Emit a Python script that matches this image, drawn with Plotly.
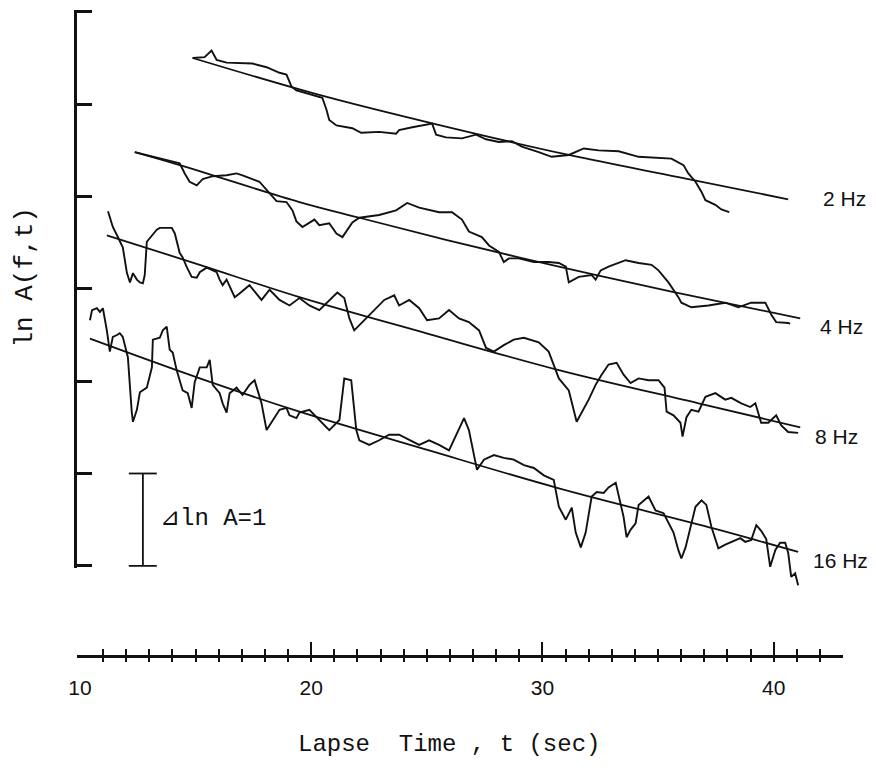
import plotly.graph_objects as go

# lapse time (sec) and ln A(f,t)

t_2hz = [14.87, 15.39, 15.69, 15.91, 16.34, 17.46, 18.07, 18.63, 18.93, 19.15, 19.36, 20.05, 20.35, 20.48,
         20.66, 20.78, 21.09, 21.78, 22.16, 22.94, 23.67, 23.80, 24.37, 25.23, 25.40, 25.83, 26.52, 27.13,
         27.56, 28.12, 28.68, 29.11, 29.84, 30.40, 31.14, 31.57, 31.79, 32.43, 33.30, 34.16, 35.02, 35.58,
         36.10, 36.31, 36.62, 36.88, 37.05, 37.48, 37.74, 38.08]
a_2hz = [5.48, 5.49, 5.56, 5.46, 5.43, 5.42, 5.38, 5.32, 5.30, 5.17, 5.13, 5.08, 5.06, 5.05,
         4.92, 4.81, 4.75, 4.72, 4.67, 4.68, 4.66, 4.70, 4.73, 4.77, 4.65, 4.62, 4.61, 4.65,
         4.60, 4.57, 4.58, 4.52, 4.46, 4.41, 4.43, 4.48, 4.50, 4.48, 4.47, 4.41, 4.40, 4.39,
         4.32, 4.23, 4.14, 4.03, 3.94, 3.89, 3.84, 3.81]

t_4hz = [12.37, 13.15, 14.31, 14.53, 14.74, 15.05, 15.31, 15.74, 16.34, 16.77, 17.03, 17.76, 18.20, 18.50,
         18.93, 19.19, 19.36, 19.62, 20.14, 20.35, 20.78, 21.09, 21.35, 21.78, 22.08, 22.94, 23.67, 24.15,
         24.67, 25.53, 26.09, 26.52, 26.82, 27.38, 27.69, 28.12, 28.33, 28.55, 28.98, 29.63, 30.27, 30.71,
         31.01, 31.14, 31.57, 32.13, 32.30, 32.52, 32.86, 33.60, 34.16, 34.72, 35.02, 35.45, 35.88, 36.01,
         36.44, 37.18, 37.91, 38.47, 39.03, 39.64, 39.90, 40.11, 40.63, 40.71]
a_4hz = [4.46, 4.41, 4.34, 4.23, 4.14, 4.10, 4.17, 4.20, 4.21, 4.23, 4.21, 4.14, 4.02, 3.93,
         3.92, 3.83, 3.71, 3.65, 3.73, 3.67, 3.69, 3.58, 3.54, 3.70, 3.75, 3.78, 3.83, 3.91,
         3.86, 3.81, 3.81, 3.73, 3.60, 3.54, 3.45, 3.38, 3.27, 3.31, 3.31, 3.27, 3.27, 3.26,
         3.22, 3.05, 3.11, 3.13, 3.08, 3.18, 3.22, 3.29, 3.26, 3.24, 3.18, 3.05, 2.89, 2.83,
         2.78, 2.80, 2.83, 2.78, 2.83, 2.83, 2.70, 2.62, 2.61, 2.60]

t_8hz = [11.21, 11.42, 11.60, 11.85, 12.03, 12.16, 12.29, 12.46, 12.59, 12.72, 12.80, 12.89, 13.32, 13.45,
         13.97, 14.10, 14.31, 14.44, 14.61, 14.83, 15.05, 15.18, 15.48, 15.91, 16.04, 16.17, 16.34, 16.69,
         16.90, 17.33, 17.85, 18.20, 18.63, 19.06, 19.49, 19.92, 20.35, 20.78, 21.13, 21.43, 21.65, 21.86,
         22.29, 22.73, 23.16, 23.59, 23.80, 24.24, 24.67, 25.01, 25.53, 25.96, 26.39, 26.82, 27.26, 27.56,
         27.90, 28.33, 28.76, 29.20, 29.84, 30.27, 30.71, 31.14, 31.48, 32.00, 32.30, 32.56, 32.86, 33.21,
         33.51, 33.81, 34.16, 34.59, 35.02, 35.28, 35.37, 35.67, 35.97, 36.06, 36.23, 36.44, 36.75, 37.05,
         37.48, 37.91, 38.17, 38.60, 38.99, 39.21, 39.46, 39.77, 40.11, 40.33, 40.63, 41.06]
a_8hz = [3.82, 3.65, 3.56, 3.43, 3.15, 3.05, 3.15, 3.08, 3.05, 3.04, 3.13, 3.49, 3.62, 3.64,
         3.64, 3.58, 3.37, 3.32, 3.22, 3.11, 3.10, 3.16, 3.21, 3.16, 3.08, 3.02, 3.08, 2.89,
         2.93, 3.02, 2.86, 2.97, 2.86, 2.80, 2.88, 2.80, 2.75, 2.86, 2.94, 2.88, 2.66, 2.53,
         2.64, 2.75, 2.86, 2.91, 2.80, 2.86, 2.77, 2.64, 2.66, 2.75, 2.66, 2.62, 2.53, 2.34,
         2.30, 2.37, 2.43, 2.45, 2.40, 2.30, 2.01, 1.88, 1.54, 1.78, 1.94, 2.05, 2.16, 2.18,
         2.05, 1.96, 2.01, 1.99, 1.99, 1.91, 1.65, 1.61, 1.53, 1.38, 1.59, 1.67, 1.65, 1.81,
         1.85, 1.78, 1.80, 1.74, 1.70, 1.74, 1.53, 1.53, 1.61, 1.50, 1.43, 1.42]

t_16hz = [10.43, 10.52, 10.73, 10.86, 10.99, 11.16, 11.29, 11.42, 11.60, 11.72, 11.85, 12.07, 12.24, 12.29,
          12.46, 12.59, 12.89, 13.11, 13.15, 13.45, 13.58, 13.75, 13.88, 14.01, 14.18, 14.44, 14.66, 14.83,
          14.96, 15.18, 15.48, 15.61, 15.74, 16.04, 16.17, 16.34, 16.47, 16.77, 17.03, 17.33, 17.55, 17.68,
          17.85, 18.07, 18.28, 18.63, 18.93, 19.06, 19.36, 19.49, 19.92, 20.35, 20.78, 21.22, 21.43, 21.73,
          21.95, 22.08, 22.51, 22.94, 23.37, 23.80, 24.24, 24.67, 25.10, 25.53, 25.96, 26.39, 26.61, 26.82,
          27.17, 27.47, 27.90, 28.33, 28.76, 29.20, 29.63, 30.06, 30.49, 30.71, 31.01, 31.27, 31.44, 31.66,
          31.87, 32.13, 32.35, 32.65, 32.86, 33.17, 33.30, 33.51, 33.64, 33.81, 34.03, 34.16, 34.59, 34.89,
          35.24, 35.45, 35.67, 35.88, 36.01, 36.19, 36.40, 36.62, 36.88, 37.09, 37.31, 37.61, 37.91, 38.17,
          38.56, 38.77, 39.03, 39.25, 39.46, 39.68, 39.85, 40.07, 40.28, 40.50, 40.63, 40.76, 40.93, 41.06]
a_16hz = [2.64, 2.75, 2.77, 2.73, 2.77, 2.53, 2.30, 2.46, 2.48, 2.50, 2.46, 2.24, 1.64, 1.54,
          1.67, 1.86, 1.91, 2.13, 2.43, 2.45, 2.53, 2.57, 2.32, 2.29, 2.10, 1.88, 1.85, 1.69,
          1.97, 2.13, 2.13, 2.21, 1.94, 1.85, 1.74, 1.64, 1.85, 1.91, 1.83, 1.94, 1.99, 1.88,
          1.74, 1.45, 1.53, 1.67, 1.69, 1.61, 1.58, 1.64, 1.67, 1.56, 1.45, 1.56, 2.01, 1.99,
          1.45, 1.34, 1.29, 1.34, 1.40, 1.40, 1.34, 1.29, 1.34, 1.29, 1.23, 1.45, 1.58, 1.45,
          1.02, 1.13, 1.18, 1.15, 1.13, 1.07, 1.04, 0.96, 0.91, 0.62, 0.48, 0.61, 0.34, 0.18,
          0.34, 0.73, 0.78, 0.77, 0.83, 0.88, 0.73, 0.51, 0.29, 0.37, 0.44, 0.64, 0.73, 0.58,
          0.55, 0.45, 0.34, 0.15, 0.06, 0.18, 0.40, 0.62, 0.69, 0.64, 0.40, 0.17, 0.21, 0.24,
          0.28, 0.24, 0.26, 0.42, 0.36, 0.27, -0.03, 0.15, 0.23, 0.23, 0.12, -0.14, -0.10, -0.23]

# fitted curves
fit_t_2hz = [14.87, 20.35, 25.10, 31.14, 35.88, 40.63]
fit_a_2hz = [5.48, 5.08, 4.78, 4.43, 4.19, 3.95]
fit_t_4hz = [12.37, 14.31, 19.49, 22.08, 25.83, 30.71, 35.58, 41.15]
fit_a_4hz = [4.46, 4.32, 3.92, 3.75, 3.51, 3.22, 2.95, 2.66]
fit_t_8hz = [11.16, 15.18, 19.49, 25.10, 30.71, 36.75, 41.15]
fit_a_8hz = [3.56, 3.24, 2.89, 2.49, 2.10, 1.74, 1.48]
fit_t_16hz = [10.43, 15.18, 19.49, 25.10, 30.71, 37.48, 41.06]
fit_a_16hz = [2.44, 2.01, 1.65, 1.23, 0.82, 0.38, 0.13]

freq_labels = ['2 Hz', '4 Hz', '8 Hz', '16 Hz']
label_a = [3.96, 2.57, 1.38, 0.04]
label_t = [42.05, 41.92, 41.70, 41.62]

x_labels = [10, 20, 30, 40]
x_minor = list(range(11, 43))
y_ticks = [0, 1, 2, 3, 4, 5, 6]

mono = 'Liberation Mono, Courier New, monospace'
sans = 'Liberation Sans, Arial, sans-serif'
ink = '#111'

fig = go.Figure()

for tt, aa in [(t_2hz, a_2hz), (t_4hz, a_4hz), (t_8hz, a_8hz), (t_16hz, a_16hz)]:
    fig.add_trace(go.Scatter(x=tt, y=aa, mode='lines', line=dict(color=ink, width=1.9)))

# fits go on the tick axis x2 (same range as x)
for tt, aa in [(fit_t_2hz, fit_a_2hz), (fit_t_4hz, fit_a_4hz), (fit_t_8hz, fit_a_8hz), (fit_t_16hz, fit_a_16hz)]:
    fig.add_trace(go.Scatter(x=tt, y=aa, xaxis='x2', mode='lines',
                             line=dict(color=ink, width=1.8, shape='spline')))

# scale bar, one unit of ln A
fig.add_trace(go.Scatter(x=[12.72, 12.72, None, 12.11, 13.32, None, 12.11, 13.32],
                         y=[0, 1, None, 0, 0, None, 1, 1], xaxis='x3', yaxis='y2', mode='lines',
                         line=dict(color=ink, width=1.8)))

for txt, tx, ay in zip(freq_labels, label_t, label_a):
    fig.add_annotation(x=tx, y=ay, xref='x', yref='y', text=txt, showarrow=False,
                       xanchor='left', yanchor='middle', font=dict(family=sans, size=21, color=ink))

fig.add_annotation(x=13.36, y=0.51, xref='x', yref='y2', text='⊿ln A=1', showarrow=False,
                   xanchor='left', yanchor='middle', font=dict(family=mono, size=24, color=ink))
fig.add_annotation(x=-0.068, y=0.585, xref='paper', yref='paper', text='ln A(f,t)', textangle=-90,
                   showarrow=False, xanchor='center', yanchor='middle',
                   font=dict(family=mono, size=26, color=ink))
fig.add_annotation(x=0.4856, y=-0.1395, xref='paper', yref='paper', text='Lapse  Time , t (sec)',
                   showarrow=False, xanchor='center', yanchor='middle',
                   font=dict(family=mono, size=24, color=ink))

# page body adds an 8px offset, so the figure is 8px smaller than the window
fig.update_layout(
    width=868, height=771, margin=dict(l=69, r=33, t=2, b=124),
    paper_bgcolor='white', plot_bgcolor='rgba(0,0,0,0)', showlegend=False, hovermode=False,
    xaxis=dict(range=[9.87, 43.0], domain=[0, 1], anchor='y', showline=True, linecolor=ink, linewidth=2.5,
               tickvals=x_labels, ticks='', showgrid=False, zeroline=False, ticklabelstandoff=12,
               tickfont=dict(family=sans, size=21, color=ink)),
    xaxis2=dict(range=[9.87, 43.0], overlaying='x', anchor='y', tickvals=[20, 30, 40], ticks='inside',
                ticklen=13, tickwidth=2, tickcolor=ink, showticklabels=False, showgrid=False, zeroline=False,
                minor=dict(tickmode='array', tickvals=x_minor, ticks='inside', ticklen=6, tickwidth=2,
                           tickcolor=ink, showgrid=False)),
    xaxis3=dict(range=[9.87, 43.0], overlaying='x', anchor='y', tickvals=x_minor, ticks='outside', ticklen=6,
                tickwidth=2, tickcolor=ink, showticklabels=False, showgrid=False, zeroline=False),
    yaxis=dict(range=[-0.9856, 6], domain=[0, 1], visible=False),
    # small padding on the range so the end ticks are not dropped
    yaxis2=dict(range=[-0.02, 6.02], domain=[0.1354, 1], anchor='x', showline=True, linecolor=ink,
                linewidth=2.5, tickvals=y_ticks, ticks='inside', ticklen=15, tickwidth=2.5, tickcolor=ink,
                showticklabels=False, showgrid=False, zeroline=False),
)

fig.write_html("out.html")
